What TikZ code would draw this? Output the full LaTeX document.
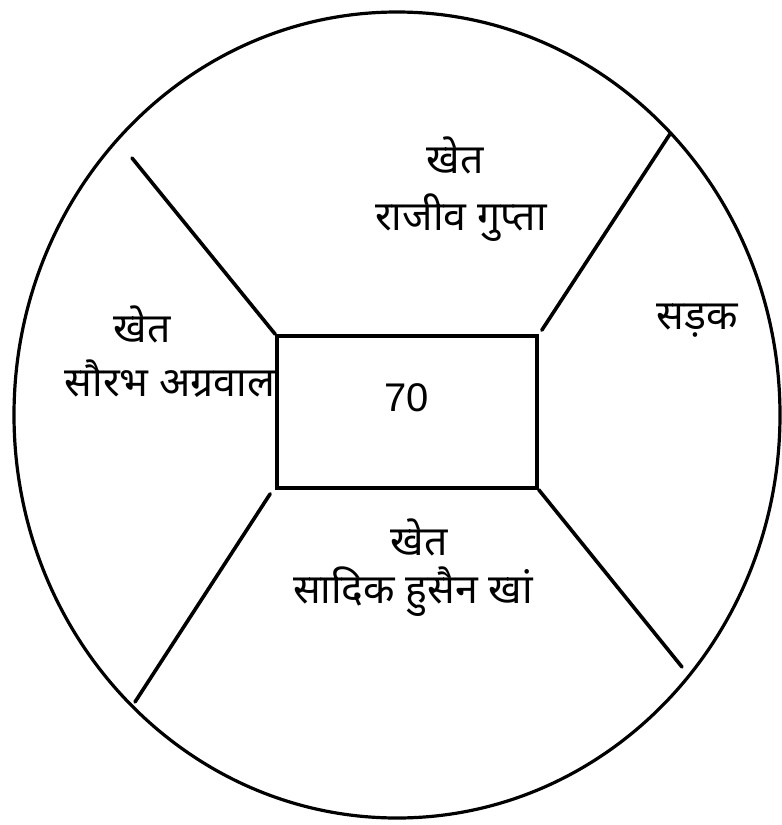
\documentclass[tikz,border=0pt]{standalone}
\usepackage{fontspec}
\newfontfamily\dev[Script=Devanagari]{Noto Sans}
\newfontfamily\arialf{Liberation Sans}
\begin{document}
\begin{tikzpicture}[x=1pt,y=-1pt,
  ln/.style={line width=3.6pt,black},
  lbl/.style={font=\dev\fontsize{41}{45}\selectfont,inner sep=0pt,anchor=center},
  plotbox/.style={draw,line width=3.6pt,minimum width=260pt,minimum height=152pt,inner sep=0pt}]
\useasboundingbox (0,0) rectangle (782,825);
\draw[line width=3.2pt] (397,415) ellipse [x radius=383pt, y radius=403pt];
\node[plotbox] (plot) at (407,412) {};
\node[font=\arialf\fontsize{40}{42}\selectfont,inner sep=0pt] (num) at (407,398) {70};
\coordinate (ul) at (132,158);
\coordinate (ur) at (670,134);
\coordinate (ll) at (135,702);
\coordinate (lr) at (682,667);
\draw[ln,line cap=round] (plot.north west) -- (ul);
\draw[ln,line cap=round] ([shift={(3,-4)}]plot.north east) -- (ur);
\draw[ln,line cap=round] ([shift={(-5,4)}]plot.south west) -- (ll);
\draw[ln,line cap=round] (plot.south east) -- (lr);
\node[lbl] (t1) at (455,155) {खेत};
\node[lbl] (t2) at (461,218) {राजीव गुप्ता};
\node[lbl] (l1) at (142,324) {खेत};
\node[lbl] (l2) at (170,379) {सौरभ अग्रवाल};
\node[lbl] (r1) at (697,321) {सड़क};
\node[lbl] (b1) at (419,537) {खेत};
\node[lbl] (b2) at (413,592) {सादिक हुसैन खां};
\end{tikzpicture}
\end{document}
